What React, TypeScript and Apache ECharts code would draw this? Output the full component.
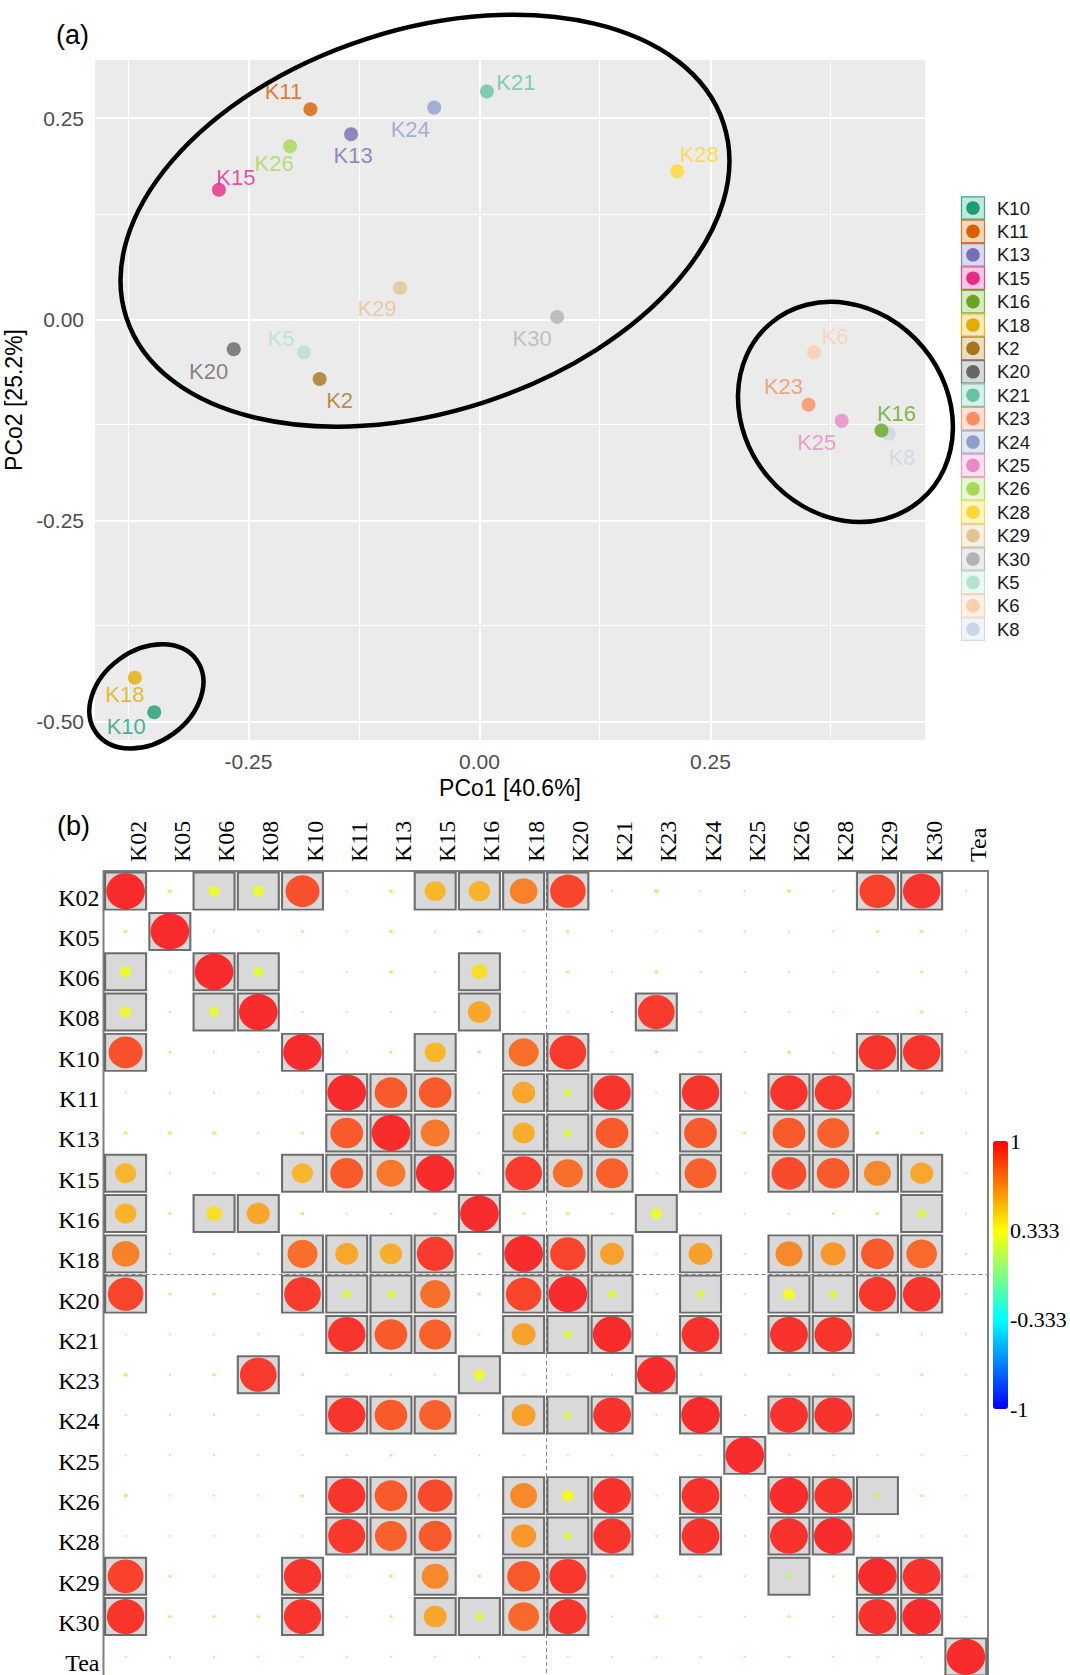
import React, { useEffect, useRef } from 'react';
import * as echarts from 'echarts';

const SANS = '"Liberation Sans", Arial, Helvetica, sans-serif';
const SERIF = '"Liberation Serif", "Times New Roman", Times, serif';

// ---------------- Panel (a): PCoA ----------------
const samples = ['K10', 'K11', 'K13', 'K15', 'K16', 'K18', 'K2', 'K20', 'K21', 'K23', 'K24', 'K25', 'K26', 'K28', 'K29', 'K30', 'K5', 'K6', 'K8'];
const pco1 = [-0.352, -0.183, -0.139, -0.282, 0.435, -0.373, -0.173, -0.266, 0.008, 0.356, -0.049, 0.392, -0.205, 0.214, -0.086, 0.084, -0.190, 0.362, 0.443];
const pco2 = [-0.488, 0.261, 0.230, 0.161, -0.138, -0.445, -0.074, -0.037, 0.283, -0.106, 0.263, -0.126, 0.215, 0.184, 0.039, 0.003, -0.041, -0.041, -0.142];
const sampleColors = ['#1B9E77', '#D95F02', '#7570B3', '#E7298A', '#66A61E', '#E6AB02', '#A6761D', '#666666', '#66C2A5', '#FC8D62', '#8DA0CB', '#E78AC3', '#A6D854', '#FFD92F', '#E5C494', '#B3B3B3', '#B3E2CD', '#FDCDAC', '#CBD5E8'];
// label offsets (px) relative to the point
const labelDx = [-28, -27, 2, 17, 15, -10, 20, -25, 29, -25, -24, -25, -16, 22, -23, -25, -23, 21, 13];
const labelDy = [14, -18, 21, -12, -17, 17, 22, 22, -9, -18, 22, 22, 17, -17, 21, 22, -14, -16, 24];
const drawOrder = [16, 17, 18, 0, 1, 2, 3, 5, 6, 7, 8, 9, 10, 11, 12, 13, 14, 15, 4];

const X_MIN = -0.4161;
const X_MAX = 0.4821;
const Y_MIN = -0.5224;
const Y_MAX = 0.3221;
const xTicks = [-0.25, 0, 0.25];
const yTicks = [-0.5, -0.25, 0, 0.25];
const xMinor = [-0.375, -0.125, 0.125, 0.375];
const yMinor = [-0.375, -0.125, 0.125];

// hand-drawn ellipses: centre in data units, radii in px, rotation in degrees
const ellipseCx = [-0.059, 0.396, -0.3605];
const ellipseCy = [0.1225, -0.115, -0.4683];
const ellipseRx = [314, 116, 62];
const ellipseRy = [191, 101, 46];
const ellipseRot = [18, -50, 36];

// ---------------- Panel (b): correlation matrix ----------------
const vars = ['K02', 'K05', 'K06', 'K08', 'K10', 'K11', 'K13', 'K15', 'K16', 'K18', 'K20', 'K21', 'K23', 'K24', 'K25', 'K26', 'K28', 'K29', 'K30', 'Tea'];
// upper triangle (row i, columns i..19)
const corrK02 = [1, 0.1, 0.3, 0.3, 0.88, 0.03, 0.1, 0.55, 0.56, 0.72, 0.92, 0.03, 0.12, 0.03, 0.02, 0.1, 0.06, 0.93, 0.97, 0.02];
const corrK05 = [1, 0.03, 0.03, 0.08, 0.03, 0.1, 0.03, 0.08, 0.03, 0.08, 0.03, 0.03, 0.03, 0.02, 0.03, 0.03, 0.08, 0.09, 0.02];
const corrK06 = [1, 0.27, 0.04, 0.03, 0.1, 0.03, 0.42, 0.03, 0.08, 0.03, 0.09, 0.03, 0.03, 0.03, 0.05, 0.06, 0.08, 0.02];
const corrK08 = [1, 0.03, 0.03, 0.03, 0.03, 0.6, 0.03, 0.03, 0.03, 0.95, 0.03, 0.03, 0.03, 0.03, 0.03, 0.09, 0.02];
const corrK10 = [1, 0.03, 0.08, 0.55, 0.09, 0.78, 0.95, 0.03, 0.08, 0.03, 0.02, 0.09, 0.03, 0.97, 0.97, 0.02];
const corrK11 = [1, 0.85, 0.85, 0.03, 0.6, 0.22, 0.97, 0.03, 0.97, 0.03, 0.97, 0.96, 0.05, 0.03, 0.02];
const corrK13 = [1, 0.75, 0.04, 0.58, 0.22, 0.85, 0.03, 0.85, 0.08, 0.85, 0.83, 0.09, 0.08, 0.02];
const corrK15 = [1, 0.07, 0.95, 0.78, 0.83, 0.03, 0.83, 0.03, 0.9, 0.85, 0.7, 0.6, 0.02];
const corrK16 = [1, 0.08, 0.09, 0.03, 0.3, 0.03, 0.03, 0.03, 0.07, 0.09, 0.22, 0.02];
const corrK18 = [1, 0.92, 0.62, 0.03, 0.62, 0.03, 0.7, 0.65, 0.85, 0.8, 0.02];
const corrK20 = [1, 0.22, 0.03, 0.2, 0.03, 0.32, 0.22, 0.96, 0.97, 0.02];
const corrK21 = [1, 0.03, 0.98, 0.03, 0.98, 0.97, 0.07, 0.03, 0.02];
const corrK23 = [1, 0.03, 0.03, 0.03, 0.03, 0.03, 0.08, 0.02];
const corrK24 = [1, 0.03, 0.98, 0.98, 0.07, 0.03, 0.02];
const corrK25 = [1, 0.03, 0.03, 0.03, 0.03, 0.02];
const corrK26 = [1, 0.98, 0.15, 0.08, 0.02];
const corrK28 = [1, 0.07, 0.03, 0.02];
const corrK29 = [1, 0.98, 0.02];
const corrK30 = [1, 0.02];
const corrTea = [1];
const corrUpper = [corrK02, corrK05, corrK06, corrK08, corrK10, corrK11, corrK13, corrK15, corrK16, corrK18, corrK20, corrK21, corrK23, corrK24, corrK25, corrK26, corrK28, corrK29, corrK30, corrTea];

// significant pairs (upper triangle incl. diagonal)
const sigK02 = ['K02', 'K06', 'K08', 'K10', 'K15', 'K16', 'K18', 'K20', 'K29', 'K30'];
const sigK05 = ['K05'];
const sigK06 = ['K06', 'K08', 'K16'];
const sigK08 = ['K08', 'K16', 'K23'];
const sigK10 = ['K10', 'K15', 'K18', 'K20', 'K29', 'K30'];
const sigK11 = ['K11', 'K13', 'K15', 'K18', 'K20', 'K21', 'K24', 'K26', 'K28'];
const sigK13 = ['K13', 'K15', 'K18', 'K20', 'K21', 'K24', 'K26', 'K28'];
const sigK15 = ['K15', 'K18', 'K20', 'K21', 'K24', 'K26', 'K28', 'K29', 'K30'];
const sigK16 = ['K16', 'K23', 'K30'];
const sigK18 = ['K18', 'K20', 'K21', 'K24', 'K26', 'K28', 'K29', 'K30'];
const sigK20 = ['K20', 'K21', 'K24', 'K26', 'K28', 'K29', 'K30'];
const sigK21 = ['K21', 'K24', 'K26', 'K28'];
const sigK23 = ['K23'];
const sigK24 = ['K24', 'K26', 'K28'];
const sigK25 = ['K25'];
const sigK26 = ['K26', 'K28', 'K29'];
const sigK28 = ['K28'];
const sigK29 = ['K29', 'K30'];
const sigK30 = ['K30'];
const sigTea = ['Tea'];
const sigUpper = [sigK02, sigK05, sigK06, sigK08, sigK10, sigK11, sigK13, sigK15, sigK16, sigK18, sigK20, sigK21, sigK23, sigK24, sigK25, sigK26, sigK28, sigK29, sigK30, sigTea];

const colorbarTicks = [-1, -0.333, 0.333, 1];
const corrColors = ['#0000FF', '#00FFFF', '#FFFF00', '#FF0000'];
const ROW_LABEL_SHIFT = 0.16; // row labels sit slightly below the row centre

function tint(hex: string, a: number) {
  const r = parseInt(hex.slice(1, 3), 16);
  const g = parseInt(hex.slice(3, 5), 16);
  const b = parseInt(hex.slice(5, 7), 16);
  return `rgba(${r},${g},${b},${a})`;
}

function buildOption() {
  const n = vars.length;
  const corr: number[][] = Array.from({ length: n }, () => new Array(n).fill(0));
  corrUpper.forEach((row, i) => row.forEach((v, k) => { corr[i][i + k] = v; corr[i + k][i] = v; }));
  const sig: boolean[][] = Array.from({ length: n }, () => new Array(n).fill(false));
  sigUpper.forEach((row, i) => row.forEach((name) => { const j = vars.indexOf(name); sig[i][j] = true; sig[j][i] = true; }));

  const circleData: number[][] = [];
  const squareData: number[][] = [];
  for (let i = 0; i < n; i++) {
    for (let j = 0; j < n; j++) {
      circleData.push([j, i, corr[i][j]]);
      if (sig[i][j]) squareData.push([j, i]);
    }
  }
  const idx = vars.map((_, i) => i);
  const rowLabelPos = vars.map((_, i) => i + ROW_LABEL_SHIFT);

  const gridLines = [
    ...xTicks.map((v) => ({ xAxis: v, lineStyle: { width: 2 } })),
    ...xMinor.map((v) => ({ xAxis: v, lineStyle: { width: 1.1 } })),
    ...yTicks.map((v) => ({ yAxis: v, lineStyle: { width: 2 } })),
    ...yMinor.map((v) => ({ yAxis: v, lineStyle: { width: 1.1 } })),
  ];

  const legendGraphics: any[] = [];
  samples.forEach((s, i) => {
    const cy = 208 + i * 23.4;
    legendGraphics.push({ type: 'rect', shape: { x: 961.5, y: cy - 11.2, width: 23, height: 22.4 }, style: { fill: tint(sampleColors[i], 0.25), stroke: tint(sampleColors[i], 0.85), lineWidth: 1.2 } });
    legendGraphics.push({ type: 'circle', shape: { cx: 973, cy, r: 6.8 }, style: { fill: sampleColors[i] } });
    legendGraphics.push({ type: 'text', x: 997, y: cy, style: { text: s, fontSize: 18.5, fontFamily: SANS, fill: '#1a1a1a', verticalAlign: 'middle', align: 'left' } });
  });

  return {
    animation: false,
    backgroundColor: '#ffffff',
    textStyle: { fontFamily: SANS },
    grid: [
      { left: 95, top: 60, width: 830, height: 680, show: true, backgroundColor: '#EBEBEB', borderWidth: 0, outerBoundsMode: 'none', containLabel: false },
      { left: 103.5, top: 871, width: 884.5, height: 806, show: true, backgroundColor: 'rgba(0,0,0,0)', borderColor: '#808080', borderWidth: 2, outerBoundsMode: 'none', containLabel: false },
      { left: 993, top: 1141, width: 15, height: 268, show: false, outerBoundsMode: 'none', containLabel: false },
    ],
    xAxis: [
      {
        gridIndex: 0, type: 'value', min: X_MIN, max: X_MAX,
        axisLine: { show: false }, splitLine: { show: false },
        axisTick: { show: true, customValues: xTicks, length: 5, lineStyle: { color: '#333333', width: 1.5 } },
        axisLabel: { customValues: xTicks, formatter: (v: number) => v.toFixed(2), color: '#4D4D4D', fontSize: 21, margin: 11, fontFamily: SANS },
        name: 'PCo1 [40.6%]', nameLocation: 'middle', nameGap: 36,
        nameTextStyle: { fontSize: 23, color: '#000000', fontFamily: SANS },
      },
      {
        gridIndex: 1, type: 'value', position: 'top', min: -0.5, max: 19.5,
        axisLine: { show: false }, axisTick: { show: false }, splitLine: { show: false },
        axisLabel: { customValues: idx, formatter: (v: number) => vars[Math.round(v)], rotate: 90, verticalAlign: 'top', margin: 9, fontSize: 24, fontFamily: SERIF, color: '#000000' },
      },
      { gridIndex: 2, type: 'value', show: false, min: 0, max: 1 },
    ],
    yAxis: [
      {
        gridIndex: 0, type: 'value', min: Y_MIN, max: Y_MAX,
        axisLine: { show: false }, splitLine: { show: false },
        axisTick: { show: true, customValues: yTicks, length: 5, lineStyle: { color: '#333333', width: 1.5 } },
        axisLabel: { customValues: yTicks, formatter: (v: number) => v.toFixed(2), color: '#4D4D4D', fontSize: 21, margin: 11, fontFamily: SANS },
        name: 'PCo2 [25.2%]', nameLocation: 'middle', nameGap: 60,
        nameTextStyle: { fontSize: 23, color: '#000000', fontFamily: SANS },
      },
      {
        gridIndex: 1, type: 'value', inverse: true, min: -0.5, max: 19.5,
        axisLine: { show: false }, axisTick: { show: false }, splitLine: { show: false },
        axisLabel: { customValues: rowLabelPos, formatter: (v: number) => vars[Math.round(v - ROW_LABEL_SHIFT)], margin: 4, fontSize: 24, fontFamily: SERIF, color: '#000000' },
      },
      {
        gridIndex: 2, type: 'value', position: 'right', min: -1, max: 1,
        axisLine: { show: false }, axisTick: { show: false }, splitLine: { show: false },
        axisLabel: {
          customValues: colorbarTicks,
          formatter: (v: number) => (Math.abs(v) === 1 ? String(v) : v.toFixed(3)),
          margin: 2, fontSize: 22, fontFamily: SERIF, color: '#000000',
        },
      },
    ],
    visualMap: {
      type: 'continuous', min: -1, max: 1, dimension: 2, seriesIndex: 5,
      inRange: { color: corrColors },
      show: true, orient: 'vertical', left: 993, top: 1141, itemWidth: 15, itemHeight: 268,
      calculable: false, padding: 0, hoverLink: false, z: 1,
    },
    graphic: [
      { type: 'text', x: 56, y: 35, style: { text: '(a)', fontSize: 27, fontFamily: SANS, fill: '#000000', verticalAlign: 'middle' } },
      { type: 'text', x: 57, y: 826, style: { text: '(b)', fontSize: 27, fontFamily: SANS, fill: '#000000', verticalAlign: 'middle' } },
      ...legendGraphics,
    ],
    series: [
      {
        type: 'scatter', xAxisIndex: 0, yAxisIndex: 0, data: [], z: 1, silent: true,
        markLine: { silent: true, z: 1, symbol: 'none', label: { show: false }, lineStyle: { color: '#FFFFFF', type: 'solid' }, data: gridLines },
      },
      {
        type: 'scatter', xAxisIndex: 0, yAxisIndex: 0, symbolSize: 14, z: 3, clip: false,
        data: drawOrder.map((i) => ({
          name: samples[i],
          value: [pco1[i], pco2[i]],
          itemStyle: { color: sampleColors[i] },
          label: {
            show: true, position: 'inside', offset: [labelDx[i], labelDy[i]], formatter: samples[i],
            color: sampleColors[i], fontSize: 22, fontFamily: SANS, textBorderWidth: 0,
          },
        })),
      },
      {
        type: 'custom', xAxisIndex: 0, yAxisIndex: 0, z: 6, silent: true, clip: false,
        data: ellipseCx.map((cx, i) => [cx, ellipseCy[i], ellipseRx[i], ellipseRy[i], ellipseRot[i]]),
        renderItem: (params: any, api: any) => {
          const p = api.coord([api.value(0), api.value(1)]);
          return {
            type: 'ellipse', x: p[0], y: p[1], rotation: (api.value(4) * Math.PI) / 180,
            shape: { cx: 0, cy: 0, rx: api.value(2), ry: api.value(3) },
            style: { fill: 'none', stroke: '#000000', lineWidth: 4.5 },
          };
        },
      },
      {
        type: 'scatter', xAxisIndex: 1, yAxisIndex: 1, data: [], z: 1, silent: true,
        markLine: { silent: true, z: 1, symbol: 'none', label: { show: false }, lineStyle: { color: '#8c8c8c', type: [4, 3], width: 1 }, data: [{ xAxis: 9.5 }, { yAxis: 9.5 }] },
      },
      {
        type: 'scatter', xAxisIndex: 1, yAxisIndex: 1, z: 2, silent: true, symbol: 'rect', symbolSize: [41, 37],
        itemStyle: { color: '#D0D0D0', borderColor: '#4D4D4D', borderWidth: 2 },
        data: squareData,
      },
      {
        type: 'scatter', xAxisIndex: 1, yAxisIndex: 1, z: 3, silent: true, symbol: 'circle',
        symbolSize: (val: number[]) => { const r = Math.abs(val[2]); return [Math.max(2, r * 38.6), Math.max(2, r * 36)]; },
        data: circleData,
      },
      { type: 'scatter', xAxisIndex: 2, yAxisIndex: 2, data: [], silent: true },
    ],
  };
}

export default function App() {
  const ref = useRef<HTMLDivElement>(null);
  useEffect(() => {
    if (!ref.current) return;
    const chart = echarts.init(ref.current, null, { renderer: 'svg' });
    chart.setOption(buildOption() as any);
    return () => chart.dispose();
  }, []);
  return <div ref={ref} style={{ position: 'absolute', left: 0, top: 0, width: 1070, height: 1675, background: '#fff' }} />;
}
